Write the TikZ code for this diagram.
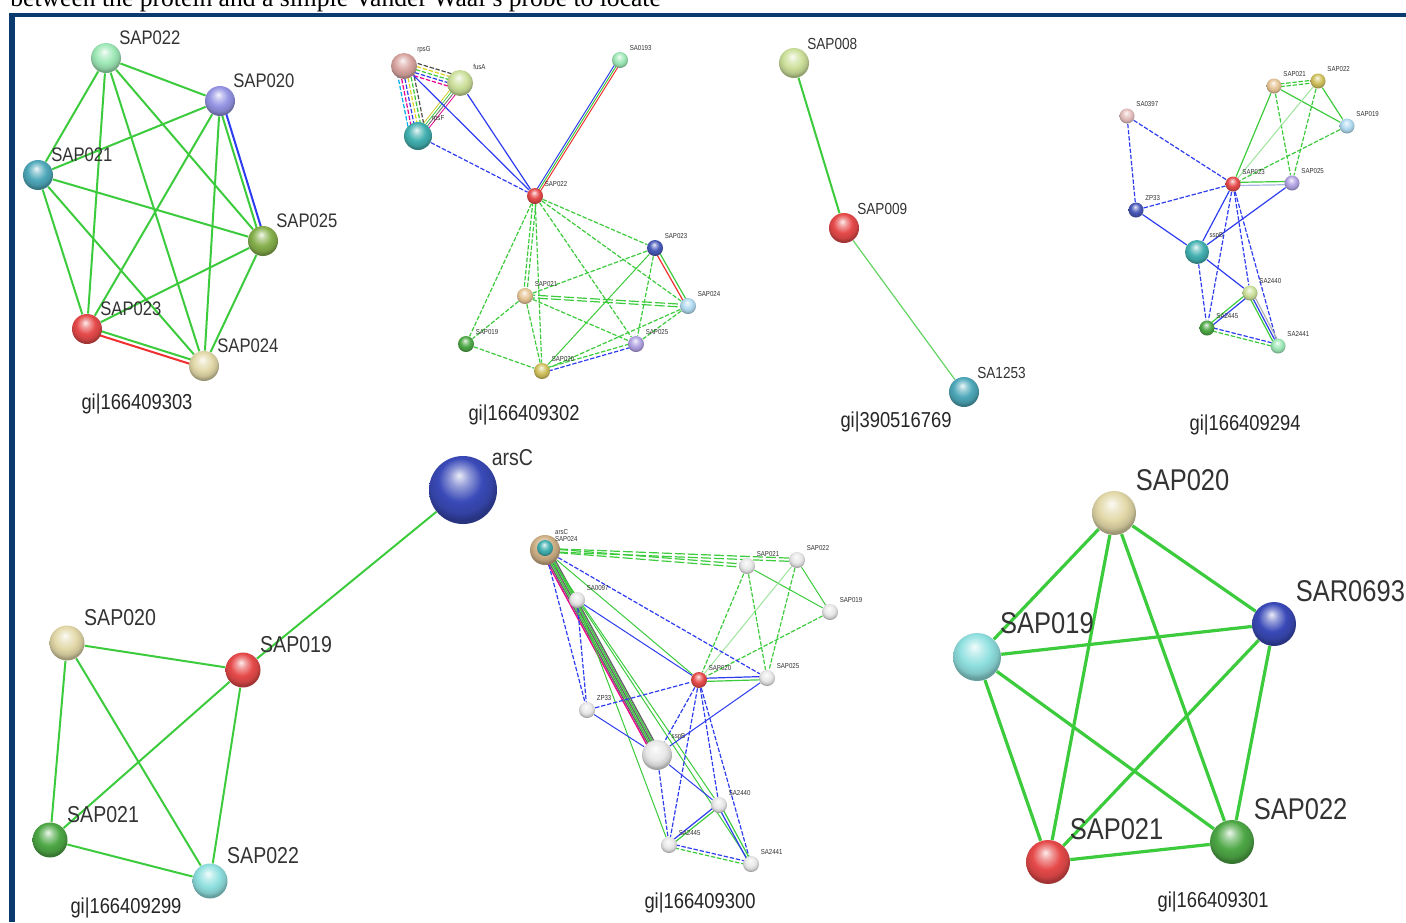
\documentclass[tikz,border=0pt]{standalone}
\usepackage{fontspec}
\setmainfont{Liberation Serif}
\newfontfamily\labf[FakeStretch=0.85]{Liberation Sans}
\usetikzlibrary{calc}
\pgfdeclarelayer{paper}
\pgfdeclarelayer{links}
\pgfsetlayers{paper,links,main}
\definecolor{frame}{HTML}{0B3A6E}
\definecolor{lg}{HTML}{3CCB3C}
\definecolor{lb}{HTML}{2E3CF0}
\definecolor{lr}{HTML}{F03030}
\definecolor{bmint}{HTML}{9EE8B6}
\definecolor{blav}{HTML}{9494E4}
\definecolor{bteal}{HTML}{4EA8BA}
\definecolor{bolive}{HTML}{86B04C}
\definecolor{bred}{HTML}{E64A4A}
\definecolor{bbeige}{HTML}{E2D8A8}
\definecolor{bpink}{HTML}{D8A4A0}
\definecolor{blime}{HTML}{CCE09A}
\definecolor{bcyan}{HTML}{42B0B0}
\definecolor{bnavy}{HTML}{4858B8}
\definecolor{btan}{HTML}{E6C496}
\definecolor{bsky}{HTML}{B0DAF0}
\definecolor{bgreen}{HTML}{4EA846}
\definecolor{bmustard}{HTML}{D0C05C}
\definecolor{bpurple}{HTML}{B0A2E2}
\definecolor{bgrey}{HTML}{E8E8E8}
\definecolor{bblue}{HTML}{3A4AB8}
\definecolor{baqua}{HTML}{90E0E0}
\colorlet{bcol}{white}
\pgfdeclareradialshading[bcol]{glossy}{\pgfpoint{-3bp}{11bp}}{%
  color(0bp)=(bcol!10!white); color(7bp)=(bcol!55!white); color(16bp)=(bcol);
  color(23bp)=(bcol!88!black); color(27bp)=(bcol!70!black); color(50bp)=(bcol!70!black)}
\tikzset{
  sph/.style={circle,inner sep=0pt,/utils/exec={\colorlet{bcol}{#1}},shading=glossy},
  dsh/.style={dash pattern=on 2.2pt off 0.9pt},
  ldsh/.style={dash pattern=on 5pt off 1.5pt},
  caption/.style={font=\labf\fontsize{10.8}{12}\selectfont,text=black!85,inner sep=0pt},
}
% one strand of a link, shifted sideways by #5
\newcommand\strand[5][]{\draw[#1,draw=#4] ($(#2)!#5!90:(#3)$) -- ($(#3)!#5!-90:(#2)$);}

\begin{document}
\begin{tikzpicture}[x=0.5pt,y=-0.5pt]
\useasboundingbox (0,0) rectangle (1406,922);
\begin{pgfonlayer}{paper}
\fill[white] (0,0) rectangle (1406,922);
\end{pgfonlayer}
% page text and frame
\node[anchor=base west,inner sep=0pt,font=\fontsize{12.8}{14}\selectfont] (ptext) at (10,6) {between the protein and a simple Vander Waal's probe to locate};
\fill[frame] (9,12.5) rectangle (1406,17);
\fill[frame] (9,12.5) rectangle (15,922);

% gi|166409303
\begin{scope}[every label/.style={font=\labf\fontsize{9.8}{10}\selectfont,text=black!80,inner sep=1pt},
  nd/.style={sph=#1,minimum size=15pt}, lk/.style={line width=1pt}]
\node[nd=bmint,label=45:SAP022] (a22) at (106,58) {};
\node[nd=blav,label=45:SAP020] (a20) at (220,101) {};
\node[nd=bteal,label=45:SAP021] (a21) at (38,175) {};
\node[nd=bolive,label=45:SAP025] (a25) at (263,241) {};
\node[nd=bred,label=45:SAP023] (a23) at (87,329) {};
\node[nd=bbeige,label=45:SAP024] (a24) at (204,366) {};
\node[caption] (agi) at (137,404) {gi|166409303};
\begin{pgfonlayer}{links}
\foreach \a/\b in {a22/a20,a22/a21,a22/a25,a22/a23,a22/a24,a20/a21,a20/a23,a20/a24,a21/a25,a21/a23,a21/a24,a25/a23,a25/a24}
  \draw[lk,draw=lg] (\a) -- (\b);
\strand[lk]{a20}{a25}{lb}{1.1pt}
\strand[lk]{a20}{a25}{lg}{-1.1pt}
\strand[lk]{a23}{a24}{lr}{-1.1pt}
\strand[lk]{a23}{a24}{lg}{1.1pt}
\end{pgfonlayer}
\end{scope}

% gi|166409302
\begin{scope}[every label/.style={font=\labf\fontsize{3.6}{4}\selectfont,text=black!80,inner sep=1pt},label distance=1pt,
  nd/.style={sph=#1,minimum size=8pt}, lk/.style={line width=0.6pt}]
\node[sph=bpink,minimum size=13pt,label=45:rpsG] (brG) at (404,66) {};
\node[sph=blime,minimum size=13pt,label=45:fusA] (bfA) at (460,83) {};
\node[sph=bcyan,minimum size=14pt,label=45:rpsF] (brF) at (418,136) {};
\node[nd=bmint,label=45:SA0193] (b93) at (620,60) {};
\node[nd=bred,label=45:SAP022] (b22) at (535,196) {};
\node[nd=bnavy,label=45:SAP023] (b23) at (655,248) {};
\node[nd=btan,label=45:SAP021] (b21) at (525,296) {};
\node[nd=bsky,label=45:SAP024] (b24) at (688,306) {};
\node[nd=bgreen,label=45:SAP019] (b19) at (466,344) {};
\node[nd=bpurple,label=45:SAP025] (b25) at (636,344) {};
\node[nd=bmustard,label=45:SAP020] (b20) at (542,371) {};
\node[caption] (bgi) at (524,415) {gi|166409302};
\begin{pgfonlayer}{links}
\foreach \c/\o in {magenta/-3.2pt,lb/-1.6pt,lg/0pt,yellow!85!black/1.6pt,black!70/3.2pt}
  {\strand[lk,dsh]{brG}{bfA}{\c}{\o}}
\foreach \c/\o in {cyan/-4pt,magenta/-2.4pt,lb/-0.8pt,yellow!85!black/0.8pt,lg/2.4pt,black!70/4pt}
  {\strand[lk,dsh]{brG}{brF}{\c}{\o}}
\foreach \c/\o in {yellow!80!black/-1.8pt,lg/-0.6pt,black!60/0.6pt,magenta/1.8pt}
  {\strand[line width=0.4pt]{bfA}{brF}{\c}{\o}}
\foreach \c/\o in {lb/-1pt,lg/0pt,lr/1pt}
  {\strand[line width=0.5pt]{b93}{b22}{\c}{\o}}
\draw[lk,draw=lb] (brG) -- (b22);
\draw[lk,draw=lb] (bfA) -- (b22);
\draw[lk,dsh,draw=lb] (brF) -- (b22);
\foreach \a/\b in {b22/b23,b22/b24,b22/b19,b22/b25,b22/b20,b23/b21,b23/b25,b21/b19,b21/b25,b21/b20,b24/b20,b24/b25,b19/b20}
  \draw[lk,dsh,draw=lg] (\a) -- (\b);
\strand[lk,dsh]{b22}{b21}{lg}{0.8pt}
\strand[lk,dsh]{b22}{b21}{lg}{-0.8pt}
\strand[lk]{b23}{b24}{lr}{-0.8pt}
\strand[lk]{b23}{b24}{lg}{0.8pt}
\draw[line width=0.5pt,draw=lg] (b23) -- (b20);
\strand[lk,ldsh]{b21}{b24}{lg}{0.7pt}
\strand[lk,ldsh]{b21}{b24}{lg}{-0.7pt}
\strand[lk,dsh]{b20}{b25}{lb}{-0.9pt}
\strand[lk,dsh]{b20}{b25}{lg}{0.9pt}
\end{pgfonlayer}
\end{scope}

% gi|390516769
\begin{scope}[every label/.style={font=\labf\fontsize{8}{9}\selectfont,text=black!80,inner sep=1pt},
  nd/.style={sph=#1,minimum size=15pt}]
\node[nd=blime,label=45:SAP008] (c08) at (794,63) {};
\node[nd=bred,label=45:SAP009] (c09) at (844,228) {};
\node[nd=bteal,label=45:SA1253] (c53) at (964,392) {};
\node[caption] (cgi) at (896,422) {gi|390516769};
\begin{pgfonlayer}{links}
\draw[lg,line width=1pt] (c08) -- (c09);
\draw[lg!80,line width=0.6pt] (c09) -- (c53);
\end{pgfonlayer}
\end{scope}

% gi|166409294
\begin{scope}[every label/.style={font=\labf\fontsize{3.6}{4}\selectfont,text=black!80,inner sep=1pt},label distance=1pt,
  nd/.style={sph=#1,minimum size=7.5pt}, lk/.style={line width=0.6pt}]
\node[nd=btan,label=45:SAP021] (d21) at (1274,86) {};
\node[nd=bmustard,label=45:SAP022] (d22) at (1318,81) {};
\node[nd=bpink!70,label=45:SA0397] (d97) at (1127,116) {};
\node[nd=bsky,label=45:SAP019] (d19) at (1347,126) {};
\node[nd=bred,label=45:SAP023] (d23) at (1233,184) {};
\node[nd=bpurple,label=45:SAP025] (d25) at (1292,183) {};
\node[nd=bnavy,label=45:ZP33] (dZP) at (1136,210) {};
\node[sph=bcyan,minimum size=12pt,label=45:sspB] (dsp) at (1197,252) {};
\node[nd=blime,label=45:SA2440] (d40) at (1250,293) {};
\node[nd=bgreen,label=45:SA2445] (d45) at (1207,328) {};
\node[nd=bmint,label=45:SA2441] (d41) at (1278,346) {};
\node[caption] (dgi) at (1245,425) {gi|166409294};
\begin{pgfonlayer}{links}
\foreach \a/\b in {d21/d19,d21/d23,d22/d19}
  \draw[lk,draw=lg] (\a) -- (\b);
\foreach \a/\b in {d21/d25,d22/d25,d19/d23}
  \draw[lk,dsh,draw=lg] (\a) -- (\b);
\draw[line width=0.5pt,draw=lg!50] (d22) -- (d23);
\strand[lk,dsh]{d21}{d22}{lg}{0.7pt}
\strand[lk,dsh]{d21}{d22}{lg}{-0.7pt}
\strand[lk]{d23}{d25}{lg}{0.8pt}
\strand[lk]{d23}{d25}{cyan!30!lb!40}{-0.8pt}
\foreach \a/\b in {d97/d23,d97/dZP,dZP/d23,d23/d45,d23/d40,d23/d41,dsp/d45}
  \draw[lk,dsh,draw=lb] (\a) -- (\b);
\foreach \a/\b in {dsp/d23,dZP/dsp,dsp/d25,dsp/d40}
  \draw[lk,draw=lb] (\a) -- (\b);
\strand[lk]{d40}{d45}{lb}{0.7pt}
\strand[lk]{d40}{d45}{lg}{-0.7pt}
\foreach \c/\o in {lg/-1.2pt,lb/0pt,black!30/1.2pt}
  {\strand[lk]{d40}{d41}{\c}{\o}}
\strand[lk,dsh]{d45}{d41}{lg}{-0.8pt}
\strand[lk,dsh]{d45}{d41}{lb}{0.8pt}
\end{pgfonlayer}
\end{scope}

% gi|166409299
\begin{scope}[every label/.style={font=\labf\fontsize{11.5}{12}\selectfont,text=black!80,inner sep=1pt},label distance=1.5pt,
  nd/.style={sph=#1,minimum size=17.5pt}, lk/.style={line width=1pt}]
\node[sph=bblue,minimum size=34pt,label={[label distance=0pt]40:arsC}] (eA) at (463,490) {};
\node[nd=bbeige,label=45:SAP020] (e20) at (67,643) {};
\node[nd=bred,label=45:SAP019] (e19) at (243,670) {};
\node[nd=bgreen,label=45:SAP021] (e21) at (50,840) {};
\node[nd=baqua,label=45:SAP022] (e22) at (210,881) {};
\node[caption] (egi) at (126,908) {gi|166409299};
\begin{pgfonlayer}{links}
\foreach \a/\b in {eA/e19,e20/e19,e20/e21,e20/e22,e19/e21,e19/e22,e21/e22}
  \draw[lk,draw=lg] (\a) -- (\b);
\end{pgfonlayer}
\end{scope}

% gi|166409300
\begin{scope}[every label/.style={font=\labf\fontsize{3.6}{4}\selectfont,text=black!80,inner sep=1pt},label distance=1pt,
  nd/.style={sph=#1,minimum size=8pt}, lk/.style={line width=0.6pt}]
\node[sph=btan!90!black,minimum size=15pt,label={[label distance=0pt]60:arsC}] (fA) at (545,550) {};
\node[sph=bcyan,minimum size=8pt,label={[label distance=0pt]25:SAP024}] (f24) at (545,548) {};
\node[nd=bgrey,label=45:SAP021] (f21) at (747,566) {};
\node[nd=bgrey,label=45:SAP022] (f22) at (797,560) {};
\node[nd=bgrey,label=45:SA0097] (f97) at (577,600) {};
\node[nd=bgrey,label=45:SAP019] (f19) at (830,612) {};
\node[nd=bred,label=45:SAP020] (f20) at (699,680) {};
\node[nd=bgrey,label=45:SAP025] (f25) at (767,678) {};
\node[nd=bgrey,label=45:ZP33] (fZP) at (587,710) {};
\node[sph=bgrey,minimum size=15pt,label=45:sspB] (fsp) at (657,755) {};
\node[nd=bgrey,label=45:SA2440] (f40) at (719,805) {};
\node[nd=bgrey,label=45:SA2445] (f45) at (669,845) {};
\node[nd=bgrey,label=45:SA2441] (f41) at (751,864) {};
\node[caption] (fgi) at (700,903) {gi|166409300};
\begin{pgfonlayer}{links}
\foreach \t in {f21,f22}
  {\strand[lk,ldsh]{fA}{\t}{lg}{0.8pt}
   \strand[lk,ldsh]{fA}{\t}{lg}{-0.8pt}}
\foreach \c/\o in {magenta/-2pt,black!60/-1.2pt,lg/-0.4pt,black!60/0.4pt,lg/1.2pt,black!60/2pt}
  {\strand[line width=0.7pt]{fA}{fsp}{\c}{\o}}
\foreach \a/\b in {fA/f20,fA/f40,fA/f41,f97/f45,f21/f19,f22/f19}
  \draw[line width=0.5pt,draw=lg] (\a) -- (\b);
\draw[line width=0.5pt,draw=lg!50] (f22) -- (f20);
\foreach \a/\b in {f21/f20,f21/f25,f22/f25,f19/f20}
  \draw[lk,dsh,draw=lg] (\a) -- (\b);
\foreach \a/\b in {fA/f25,fA/fZP,f97/fZP,fZP/f20,f20/f45,f20/f40,f20/f41,fsp/f45,f20/fsp}
  \draw[lk,dsh,draw=lb] (\a) -- (\b);
\foreach \a/\b in {f97/f20,fZP/fsp,f25/fsp,fsp/f40}
  \draw[line width=0.5pt,draw=lb] (\a) -- (\b);
\strand[lk]{f20}{f25}{lb}{0.8pt}
\strand[lk]{f20}{f25}{lg}{-0.8pt}
\strand[lk]{f40}{f45}{lg}{0.7pt}
\strand[lk]{f40}{f45}{lb}{-0.7pt}
\strand[lk]{f40}{f41}{lg}{0.7pt}
\strand[lk]{f40}{f41}{lb}{-0.7pt}
\strand[lk,dsh]{f45}{f41}{lg}{-0.8pt}
\strand[lk,dsh]{f45}{f41}{lb}{0.8pt}
\end{pgfonlayer}
\end{scope}

% gi|166409301
\begin{scope}[every label/.style={font=\labf\fontsize{15}{16}\selectfont,text=black!80,inner sep=1pt},label distance=2.5pt,
  nd/.style={sph=#1,minimum size=22pt}, lk/.style={line width=1.6pt}]
\node[nd=bbeige,label=45:SAP020] (g20) at (1114,513) {};
\node[nd=bblue,label=45:SAR0693] (g93) at (1274,624) {};
\node[nd=baqua,minimum size=24pt,label=45:SAP019] (g19) at (977,657) {};
\node[nd=bred,label=45:SAP021] (g21) at (1048,862) {};
\node[nd=bgreen,label=45:SAP022] (g22) at (1232,842) {};
\node[caption] (ggi) at (1213,902) {gi|166409301};
\begin{pgfonlayer}{links}
\foreach \a/\b in {g20/g93,g20/g19,g20/g21,g20/g22,g93/g19,g93/g21,g93/g22,g19/g21,g19/g22,g21/g22}
  \draw[lk,draw=lg] (\a) -- (\b);
\end{pgfonlayer}
\end{scope}
\end{tikzpicture}
\end{document}
